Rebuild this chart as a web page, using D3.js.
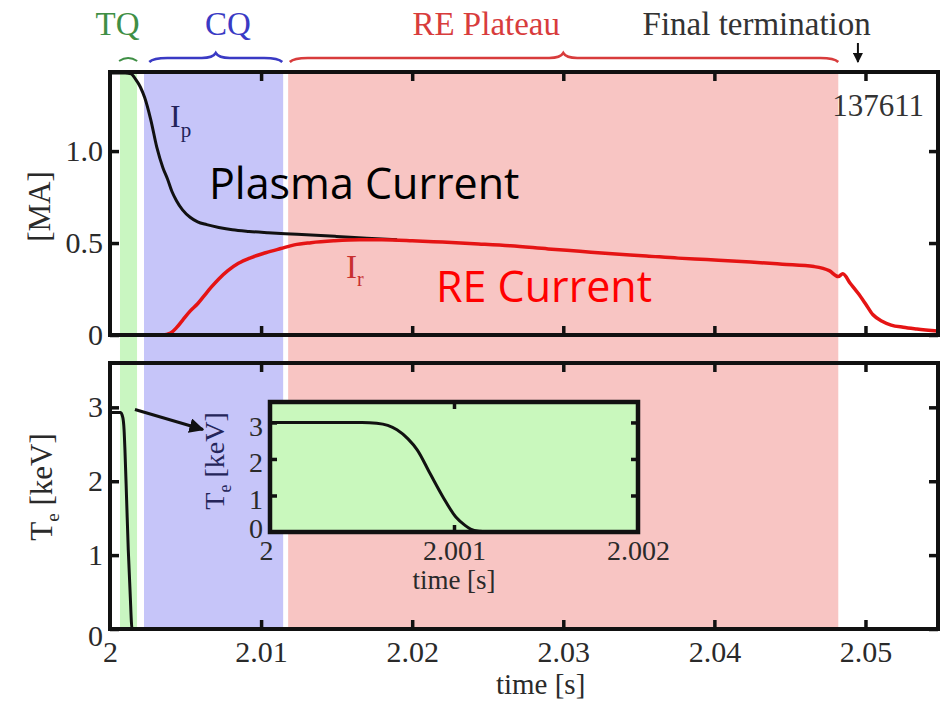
<!DOCTYPE html>
<html><head><meta charset="utf-8">
<script src="https://cdn.jsdelivr.net/npm/d3@7"></script>
<style>
body{margin:0;background:#fff}
svg{display:block}
</style>
</head><body>
<svg id="chart" width="943" height="704"></svg>
<script>
// ---- axis ticks ----
const timeTicks = [2, 2.01, 2.02, 2.03, 2.04, 2.05];
const timeTickLabels = ["2", "2.01", "2.02", "2.03", "2.04", "2.05"];
const currentTicks = [0, 0.5, 1.0];
const currentTickLabels = ["0", "0.5", "1.0"];
const tempTicks = [0, 1, 2, 3];
const insetTimeTicks = [2, 2.001, 2.002];
const insetTimeLabels = ["2", "2.001", "2.002"];

// ---- disruption phases (time spans) ----
const phaseNames = ["TQ", "CQ", "RE Plateau"];
const phaseStart = [2.00066, 2.00225, 2.01179];
const phaseEnd = [2.00179, 2.01146, 2.0482];
const phaseFill = ["#c9f6c1", "#c6c5f9", "#f8c5c3"];
const phaseText = ["#3f8f45", "#3a3ac4", "#d83c3c"];
const terminationTime = 2.0495;

// ---- plasma current Ip [MA] ----
const ipTime = [2.0000, 2.0010, 2.0014, 2.0017, 2.0020, 2.0023, 2.0027, 2.0031, 2.0035, 2.0038,
  2.0041, 2.0044, 2.0048, 2.0053, 2.0058, 2.0064, 2.0072, 2.0081, 2.0092, 2.0104,
  2.0116, 2.0130, 2.0150, 2.0170, 2.0190];
const ipValue = [1.425, 1.425, 1.42, 1.39, 1.35, 1.29, 1.17, 1.02, 0.91, 0.85,
  0.78, 0.73, 0.68, 0.64, 0.615, 0.60, 0.585, 0.572, 0.563, 0.556,
  0.55, 0.545, 0.536, 0.526, 0.518];

// ---- runaway electron current Ir [MA] ----
const irTime = [2.0023, 2.0035, 2.0040, 2.0044, 2.0048, 2.0053, 2.0058, 2.0062, 2.0067, 2.0072,
  2.0078, 2.0085, 2.0093, 2.0103, 2.0113, 2.0122, 2.0133, 2.0148, 2.0165, 2.0180,
  2.0200, 2.0220, 2.0244, 2.0265, 2.0290, 2.0311, 2.0330, 2.0355, 2.0376, 2.0395,
  2.0424, 2.0445, 2.0466, 2.0476, 2.0482, 2.0485, 2.0490, 2.0495, 2.0500, 2.0505,
  2.0511, 2.0517, 2.0525, 2.0534, 2.0548];
const irValue = [0.0, 0.0, 0.01, 0.04, 0.08, 0.13, 0.17, 0.21, 0.26, 0.305,
  0.35, 0.39, 0.42, 0.447, 0.47, 0.49, 0.502, 0.512, 0.518, 0.518,
  0.513, 0.505, 0.495, 0.485, 0.468, 0.455, 0.443, 0.43, 0.418, 0.41,
  0.397, 0.385, 0.372, 0.35, 0.318, 0.333, 0.28, 0.228, 0.17, 0.11,
  0.075, 0.054, 0.042, 0.033, 0.022];

// ---- electron temperature Te [keV] ----
const teTime = [2.0000, 2.0007, 2.00085, 2.00093, 2.00099, 2.0011, 2.00121, 2.00133, 2.00146, 2.0016];
const teValue = [2.93, 2.93, 2.86, 2.7, 2.42, 1.75, 1.07, 0.5, 0.0, 0.0];

// ---- zoomed thermal quench Te [keV] ----
const zoomTime = [2.0000, 2.0005, 2.00058, 2.00064, 2.00069, 2.00075, 2.0008, 2.00087, 2.00094, 2.00101,
  2.00106, 2.00109, 2.00114, 2.0012, 2.0020];
const zoomValue = [3.0, 3.0, 2.98, 2.92, 2.8, 2.55, 2.25, 1.6, 0.96, 0.41,
  0.18, 0.08, 0.02, 0.0, 0.0];

const shotNumber = "137611";

// ---- layout ----
const svg = d3.select("#chart");
const L = 110, R = 938;
const topP = {y0: 72, y1: 335};
const botP = {y0: 363, y1: 629};
const ins = {x0: 270, x1: 638, y0: 402, y1: 532};
const serif = '"Liberation Serif","Times New Roman",serif';
const sans = '"Open Sans","Noto Sans",sans-serif';
const tickCol = "#2a2a2a";

const x = d3.scaleLinear().domain([2, 2.0548]).range([L, R]);
const yI = d3.scaleLinear().domain([0, 1.43]).range([topP.y1, topP.y0]);
const yT = d3.scaleLinear().domain([0, 3.6]).range([botP.y1, botP.y0]);
const xi = d3.scaleLinear().domain([2, 2.002]).range([ins.x0, ins.x1]);
const yi = d3.scaleLinear().domain([0, 3.56]).range([ins.y1, ins.y0]);

const defs = svg.append("defs");
[["clipTop", topP], ["clipBot", botP]].forEach(([id, p]) => {
  defs.append("clipPath").attr("id", id).append("rect")
    .attr("x", L).attr("y", p.y0).attr("width", R - L).attr("height", p.y1 - p.y0);
});
defs.append("clipPath").attr("id", "clipIns").append("rect")
  .attr("x", ins.x0).attr("y", ins.y0).attr("width", ins.x1 - ins.x0).attr("height", ins.y1 - ins.y0);
defs.append("marker").attr("id", "head").attr("viewBox", "0 0 10 10")
  .attr("refX", 9).attr("refY", 5).attr("markerWidth", 5).attr("markerHeight", 5)
  .attr("orient", "auto").attr("markerUnits", "strokeWidth")
  .append("path").attr("d", "M0,0 L10,5 L0,10 Z").attr("fill", "#111");

// ---- phase bands spanning both panels ----
svg.append("g").selectAll("rect").data(phaseNames).join("rect")
  .attr("x", (d, i) => x(phaseStart[i]))
  .attr("width", (d, i) => x(phaseEnd[i]) - x(phaseStart[i]))
  .attr("y", topP.y0).attr("height", botP.y1 - topP.y0)
  .attr("fill", (d, i) => phaseFill[i]);

// ---- phase labels and braces ----
const labelX = [2.0005, 2.0078, 2.0249];
svg.append("g").selectAll("text").data(phaseNames).join("text")
  .attr("x", (d, i) => x(labelX[i])).attr("y", 35)
  .attr("text-anchor", "middle").attr("font-family", serif).attr("font-size", 33)
  .attr("fill", (d, i) => phaseText[i]).text(d => d);
svg.append("text").attr("x", x(2.0428)).attr("y", 35).attr("text-anchor", "middle")
  .attr("font-family", serif).attr("font-size", 33).attr("fill", "#333").text("Final termination");

function brace(x0, x1, xm, yb, ym) {
  const p = d3.path();
  p.moveTo(x0, yb + 3);
  p.quadraticCurveTo(x0 + 4, yb - 1, x0 + 18, yb - 1);
  p.lineTo(xm - 14, yb - 1);
  p.quadraticCurveTo(xm - 3, yb - 1, xm, ym);
  p.quadraticCurveTo(xm + 3, yb - 1, xm + 14, yb - 1);
  p.lineTo(x1 - 18, yb - 1);
  p.quadraticCurveTo(x1 - 4, yb - 1, x1, yb + 3);
  return p.toString();
}
svg.append("path").attr("d", `M${x(2.0006)},61 Q${x(2.0012)},55 ${x(2.0018)},61`)
  .attr("fill", "none").attr("stroke", phaseText[0]).attr("stroke-width", 2);
svg.append("path").attr("d", brace(x(2.0026), x(2.0114), x(2.0070), 59, 53))
  .attr("fill", "none").attr("stroke", phaseText[1]).attr("stroke-width", 2.5);
svg.append("path").attr("d", brace(x(2.0119), x(2.0482), x(2.0300), 59, 53))
  .attr("fill", "none").attr("stroke", phaseText[2]).attr("stroke-width", 2.5);
svg.append("line").attr("x1", x(terminationTime)).attr("x2", x(terminationTime))
  .attr("y1", 43).attr("y2", 62).attr("stroke", "#111").attr("stroke-width", 2)
  .attr("marker-end", "url(#head)");

// ---- top panel: currents ----
const lineI = (ts, vs) => d3.line().x(i => x(ts[i])).y(i => yI(vs[i])).curve(d3.curveMonotoneX)(d3.range(ts.length));
const gTop = svg.append("g").attr("clip-path", "url(#clipTop)");
gTop.append("path").attr("d", lineI(ipTime, ipValue))
  .attr("fill", "none").attr("stroke", "#111").attr("stroke-width", 3);
gTop.append("path").attr("d", lineI(irTime, irValue))
  .attr("fill", "none").attr("stroke", "#e51414").attr("stroke-width", 3.5);

// ---- bottom panel: temperature ----
const gBot = svg.append("g").attr("clip-path", "url(#clipBot)");
gBot.append("path")
  .attr("d", d3.line().x(i => x(teTime[i])).y(i => yT(teValue[i])).curve(d3.curveMonotoneX)(d3.range(teTime.length)))
  .attr("fill", "none").attr("stroke", "#111").attr("stroke-width", 3);

// ---- frames and axes ----
function styleAxis(g, size) {
  g.attr("font-family", serif);
  g.select(".domain").remove();
  g.selectAll(".tick line").attr("stroke", "#111").attr("stroke-width", 3.5);
  g.selectAll(".tick text").attr("font-family", serif).attr("font-size", size || 30).attr("fill", tickCol);
}
function panel(p, yScale, yVals, yFmt, showX) {
  const gl = svg.append("g").attr("transform", `translate(${L},0)`)
    .call(d3.axisLeft(yScale).tickValues(yVals).tickFormat(yFmt).tickSize(-9).tickPadding(7)).call(styleAxis);
  if (showX) gl.selectAll(".tick text").filter(d => d === 0).attr("dy", "0.55em");
  svg.append("g").attr("transform", `translate(${R},0)`)
    .call(d3.axisRight(yScale).tickValues(yVals).tickFormat("").tickSize(-9)).call(styleAxis);
  svg.append("g").attr("transform", `translate(0,${p.y0})`)
    .call(d3.axisTop(x).tickValues(timeTicks.slice(1)).tickFormat("").tickSize(-9)).call(styleAxis);
  const gb = svg.append("g").attr("transform", `translate(0,${p.y1})`)
    .call(d3.axisBottom(x).tickValues(showX ? timeTicks : timeTicks.slice(1))
      .tickFormat((d, i) => showX ? timeTickLabels[i] : "").tickSize(-9).tickPadding(12)).call(styleAxis);
  gb.selectAll(".tick line").filter(d => d === 2).remove();
  svg.append("rect").attr("x", L).attr("y", p.y0).attr("width", R - L).attr("height", p.y1 - p.y0)
    .attr("fill", "none").attr("stroke", "#111").attr("stroke-width", 4);
}
panel(topP, yI, currentTicks, (d, i) => currentTickLabels[i], false);
panel(botP, yT, tempTicks, d3.format("d"), true);

// axis titles
svg.append("text").attr("transform", `translate(50,${(topP.y0 + topP.y1) / 2 + 3}) rotate(-90)`)
  .attr("text-anchor", "middle").attr("font-family", serif).attr("font-size", 31).attr("fill", tickCol).text("[MA]");
const teLab = svg.append("text").attr("transform", `translate(52,${(botP.y0 + botP.y1) / 2 - 9}) rotate(-90)`)
  .attr("text-anchor", "middle").attr("font-family", serif).attr("font-size", 31).attr("fill", tickCol);
teLab.append("tspan").text("T");
teLab.append("tspan").attr("font-size", 19).attr("dy", 7).text("e");
teLab.append("tspan").attr("dy", -7).text(" [keV]");
svg.append("text").attr("x", x(2.0285)).attr("y", 694).attr("text-anchor", "middle")
  .attr("font-family", serif).attr("font-size", 29).attr("fill", tickCol).text("time [s]");

// curve labels
const ipLab = svg.append("text").attr("x", 170).attr("y", 127).attr("font-family", serif)
  .attr("font-size", 32).attr("fill", "#23235a");
ipLab.append("tspan").text("I");
ipLab.append("tspan").attr("font-size", 21).attr("dy", 10).text("p");
const irLab = svg.append("text").attr("x", 346).attr("y", 278).attr("font-family", serif)
  .attr("font-size", 33).attr("fill", "#c8302f");
irLab.append("tspan").text("I");
irLab.append("tspan").attr("font-size", 20).attr("dy", 8).text("r");
svg.append("text").attr("x", 924).attr("y", 116).attr("text-anchor", "end").attr("font-family", serif)
  .attr("font-size", 31).attr("fill", "#333").text(shotNumber);

// annotations
svg.append("text").attr("x", 209).attr("y", 199).attr("font-family", sans).attr("font-size", 43)
  .attr("fill", "#000").text("Plasma Current");
svg.append("text").attr("x", 436).attr("y", 302).attr("font-family", sans).attr("font-size", 43)
  .attr("fill", "#ff0000").text("RE Current");

// ---- inset: zoomed thermal quench ----
svg.append("line").attr("x1", x(2.00165)).attr("y1", yT(2.97)).attr("x2", x(2.00615)).attr("y2", yT(2.7))
  .attr("stroke", "#111").attr("stroke-width", 3).attr("marker-end", "url(#head)");
svg.append("rect").attr("x", ins.x0).attr("y", ins.y0).attr("width", ins.x1 - ins.x0).attr("height", ins.y1 - ins.y0)
  .attr("fill", "#c9f8bd");
svg.append("g").attr("clip-path", "url(#clipIns)").append("path")
  .attr("d", d3.line().x(i => xi(zoomTime[i])).y(i => yi(zoomValue[i])).curve(d3.curveMonotoneX)(d3.range(zoomTime.length)))
  .attr("fill", "none").attr("stroke", "#111").attr("stroke-width", 3);
const styleInset = g => styleAxis(g, 28);
const il = svg.append("g").attr("transform", `translate(${ins.x0},0)`)
  .call(d3.axisLeft(yi).tickValues(tempTicks).tickFormat(d3.format("d")).tickSize(-7).tickPadding(7)).call(styleInset);
il.selectAll(".tick line").filter(d => d === 0).remove();
il.selectAll(".tick text").attr("dy", "0.45em");
il.selectAll(".tick text").filter(d => d === 0).attr("dy", "0.2em");
svg.append("g").attr("transform", `translate(${ins.x1},0)`)
  .call(d3.axisRight(yi).tickValues(tempTicks.slice(1)).tickFormat("").tickSize(-7)).call(styleInset);
svg.append("g").attr("transform", `translate(0,${ins.y0})`)
  .call(d3.axisTop(xi).tickValues([2.001]).tickFormat("").tickSize(-7)).call(styleInset);
const ib = svg.append("g").attr("transform", `translate(0,${ins.y1})`)
  .call(d3.axisBottom(xi).tickValues(insetTimeTicks).tickFormat((d, i) => insetTimeLabels[i]).tickSize(-7).tickPadding(8))
  .call(styleInset);
ib.selectAll(".tick line").filter(d => d !== 2.001).remove();
ib.selectAll(".tick text").filter(d => d === 2).attr("dx", -4);
svg.append("rect").attr("x", ins.x0).attr("y", ins.y0).attr("width", ins.x1 - ins.x0).attr("height", ins.y1 - ins.y0)
  .attr("fill", "none").attr("stroke", "#111").attr("stroke-width", 4.5);
const insLab = svg.append("text").attr("transform", `translate(224,${(ins.y0 + ins.y1) / 2 - 6}) rotate(-90)`)
  .attr("text-anchor", "middle").attr("font-family", serif).attr("font-size", 28).attr("fill", "#25255a");
insLab.append("tspan").text("T");
insLab.append("tspan").attr("font-size", 18).attr("dy", 7).text("e");
insLab.append("tspan").attr("dy", -7).text(" [keV]");
svg.append("text").attr("x", xi(2.001)).attr("y", 589).attr("text-anchor", "middle")
  .attr("font-family", serif).attr("font-size", 27).attr("fill", tickCol).text("time [s]");
</script>
</body></html>
